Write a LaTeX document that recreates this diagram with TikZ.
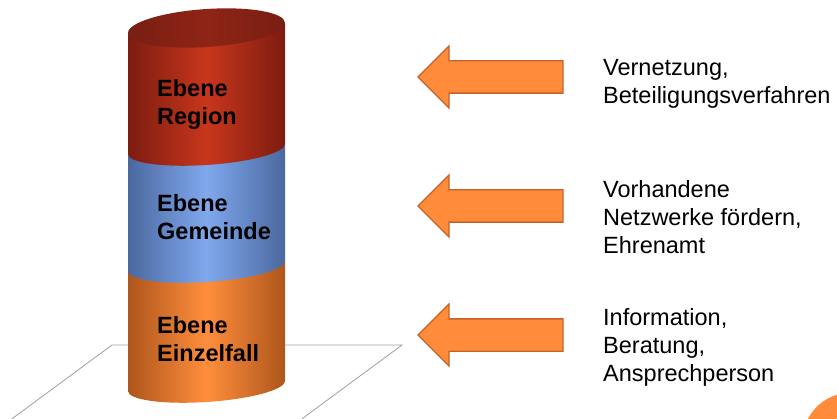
\documentclass[tikz,border=0pt]{standalone}
\usepackage{fontspec}
\setmainfont{Liberation Sans}
\usetikzlibrary{shapes.arrows}
\definecolor{redmid}{HTML}{C8361C}
\definecolor{rededge}{HTML}{7C1C10}
\definecolor{capred}{HTML}{8E2416}
\definecolor{bluemid}{HTML}{80A8EE}
\definecolor{blueedge}{HTML}{4A689E}
\definecolor{orangemid}{HTML}{FF8E3C}
\definecolor{orangeedge}{HTML}{AE561C}
\definecolor{arrowfill}{HTML}{FF8B3B}
\definecolor{arrowline}{HTML}{C4622A}
\begin{document}
\begin{tikzpicture}[x=1pt, y=1pt,
    level/.style={font=\bfseries\fontsize{23.5}{28}\selectfont, align=left, anchor=west, inner sep=0pt},
    hint/.style={font=\fontsize{23.5}{28}\selectfont, align=left, anchor=west, inner sep=0pt},
    blockarrow/.style={single arrow, shape border rotate=180, draw=arrowline, fill=arrowfill,
      line width=1.3pt, minimum height=145pt, single arrow head extend=15pt,
      inner xsep=0pt, inner ysep=15.5pt}]
  \useasboundingbox (0,0) rectangle (837,-419);
  \clip (0,0) rectangle (837,-419);

  % ground plane
  \draw[gray!75, line width=0.8pt] (11.7,-419) -- (112,-345) -- (402,-345) -- (301.7,-419);

  % cylinder
  \begin{scope}[shift={(206.5,0)}, yslant=0.064]
    \shade[left color=orangeedge, right color=orangeedge, middle color=orangemid]
      (-78.5,-266) -- (-78.5,-386) arc[start angle=180, end angle=360, x radius=78.5, y radius=16] -- (78.5,-266) -- cycle;
    \shade[left color=blueedge, right color=blueedge, middle color=bluemid]
      (-78.5,-149) -- (-78.5,-266) arc[start angle=180, end angle=360, x radius=78.5, y radius=16] -- (78.5,-149) -- cycle;
    \shade[left color=rededge, right color=rededge, middle color=redmid]
      (-78.5,-29) -- (-78.5,-149) arc[start angle=180, end angle=360, x radius=78.5, y radius=16] -- (78.5,-29) -- cycle;
    \shade[left color=capred!85!black, right color=capred!85!black, middle color=capred]
      (0,-28) ellipse[x radius=78.5, y radius=19];
  \end{scope}

  \node[level] (region) at (157,-104) {Ebene\\Region};
  \node[level] (gemeinde) at (157,-217.5) {Ebene\\Gemeinde};
  \node[level] (einzelfall) at (157,-339) {Ebene\\Einzelfall};

  % arrows and texts
  \node[blockarrow] (arrowregion) at (498.5,-77) {};
  \node[blockarrow] (arrowgemeinde) at (498.5,-206) {};
  \node[blockarrow] (arrowfall) at (498.5,-335) {};

  \node[hint] (vernetzung) at (603,-84) {Vernetzung,\\Beteiligungsverfahren};
  \node[hint] (netzwerke) at (603,-217) {Vorhandene\\Netzwerke fördern,\\Ehrenamt};
  \node[hint] (information) at (603,-347) {Information,\\Beratung,\\Ansprechperson};

  \fill[arrowfill] (850,-440) circle[radius=47];
\end{tikzpicture}
\end{document}
